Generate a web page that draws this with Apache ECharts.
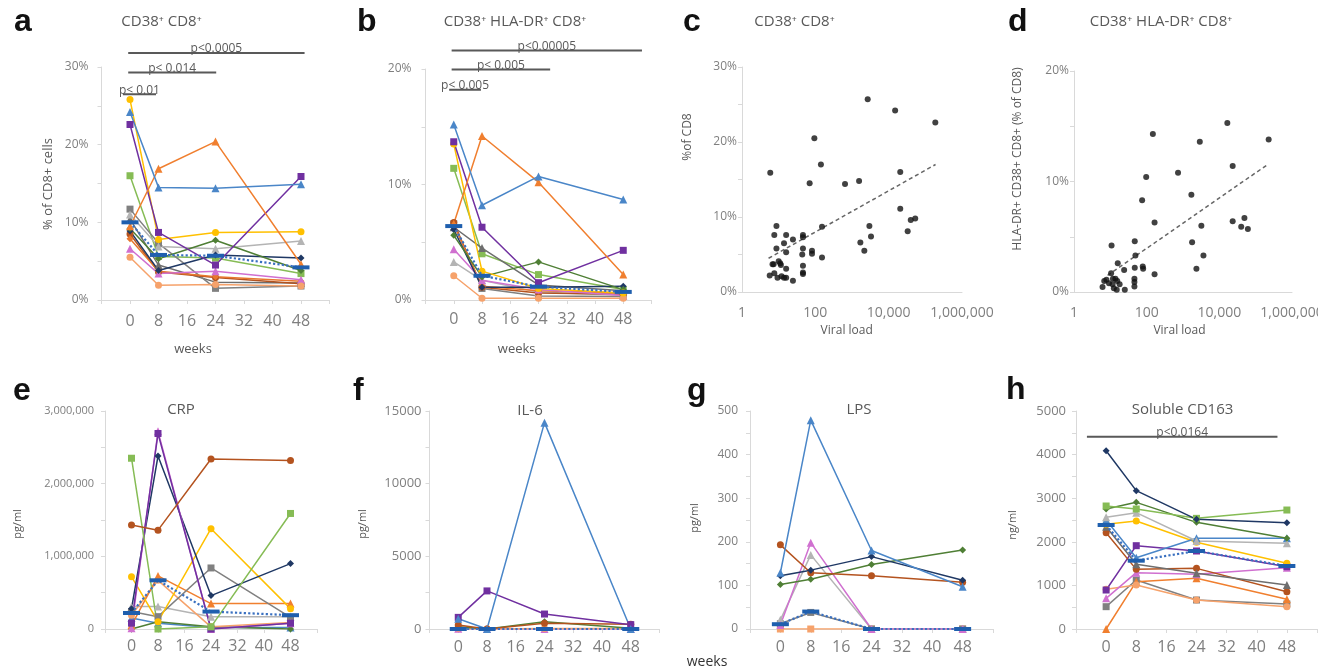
<!DOCTYPE html>
<html><head><meta charset="utf-8">
<script src="https://cdn.jsdelivr.net/npm/echarts@6/dist/echarts.min.js"></script>
<style>html,body{margin:0;padding:0;background:#fff}#c{width:1318px;height:669px}</style>
</head><body><div id="c"></div>
<script>
// ---------------- DATA ----------------
const weeks = [0, 8, 24, 48];
const weekTicks = [0, 8, 16, 24, 32, 40, 48];

// Panel a: CD38+ CD8+ (% of CD8+ cells)
const panelASubjects = ['lightgreen','darkgrayTri','darkgraySq','lightgrayTri','brown','orangeDia','pink','salmon','navy','darkgreen','gold','purple','orange','blue'];
const panelAValues = [
  [16.0, 5.6, 5.4, 3.4],
  [10.4, 4.5, 2.3, 2.2],
  [11.7, 7.3, 1.5, 1.8],
  [11.0, 6.9, 6.6, 7.6],
  [8.5, 3.6, 2.9, 2.1],
  [7.9, 3.7, 3.0, 2.4],
  [6.6, 3.4, 3.7, 2.6],
  [5.5, 1.9, 2.0, 1.8],
  [8.9, 3.8, 5.8, 5.4],
  [9.2, 5.3, 7.7, 3.8],
  [25.8, 7.8, 8.7, 8.8],
  [22.6, 8.7, 4.5, 15.9],
  [9.5, 16.9, 20.4, 4.6],
  [24.2, 14.5, 14.4, 14.9]
];
const panelAMedian = [10.0, 5.8, 5.7, 4.2];
const panelASig = [['p< 0.01', -2, 7.3, 26.5], ['p< 0.014', -0.5, 24.2, 29.3], ['p<0.0005', -0.5, 49, 31.8]];

// Panel b: CD38+ HLA-DR+ CD8+
const panelBSubjects = ['lightgreen','darkgrayTri','darkgraySq','lightgrayTri','brown','orangeDia','pink','salmon','navy','darkgreen','gold','purple','orange','blue'];
const panelBValues = [
  [11.4, 4.0, 2.2, 0.9],
  [6.3, 4.5, 1.3, 0.8],
  [6.6, 1.0, 0.35, 0.3],
  [3.3, 1.7, 0.7, 0.4],
  [6.7, 1.1, 0.6, 0.5],
  [6.5, 1.2, 0.8, 0.6],
  [4.4, 1.7, 0.9, 0.4],
  [2.1, 0.15, 0.15, 0.15],
  [6.1, 1.1, 1.1, 1.2],
  [5.6, 2.0, 3.3, 0.9],
  [13.5, 2.5, 1.0, 0.6],
  [13.7, 6.3, 1.5, 4.3],
  [6.6, 14.2, 10.2, 2.2],
  [15.2, 8.2, 10.7, 8.7]
];
const panelBMedian = [6.4, 2.1, 1.15, 0.7];
const panelBSig = [['p< 0.005', -1.3, 7.7, 18.2], ['p< 0.005', -0.6, 27.3, 19.95], ['p<0.00005', -0.6, 53.3, 21.6]];

// Panel c: viral load vs CD38+ CD8+
const viralCD38 = [[5.9,15.9],[94,20.5],[142,17.0],[70,14.5],[645,14.4],[1560,14.8],[2680,25.7],[15000,24.2],[187000,22.6],
  [20700,16.0],[20700,11.1],[40000,9.6],[53000,9.8],[33000,8.1],[2980,8.8],[3300,7.4],[1690,6.6],[2170,5.5],[152,8.7],[152,4.6],
  [81,5.5],[81,5.1],[46,7.6],[46,7.3],[46,5.8],[44,5.0],[46,3.5],[46,2.6],[46,2.4],[24.5,7.0],[24.5,1.5],[16,7.6],[16,5.3],
  [14,6.5],[16,3.1],[16,1.9],[14,1.9],[8.7,8.8],[7.6,7.6],[8.7,5.8],[10,4.1],[11.5,3.6],[11,3.85],[7.3,3.7],[6.8,3.7],
  [7.6,2.5],[9.3,1.9],[5.7,2.2],[12,2.1]];
const trendCD38 = [[5.3, 4.5], [190000, 17.0]];

// Panel d: viral load vs CD38+ HLA-DR+ CD8+
const viralHLA = [[16600,15.3],[228000,13.8],[2900,13.6],[148,14.3],[97,10.4],[730,10.8],[75,8.3],[1700,8.8],[23300,11.4],
  [23300,6.4],[49000,6.7],[40000,5.9],[61000,5.7],[3200,6.0],[165,6.3],[1780,4.5],[3650,3.3],[2340,2.1],[165,1.6],[10.8,4.2],
  [47,4.6],[49,3.3],[47,2.2],[78,2.3],[80,2.1],[24,2.0],[16,2.6],[46,1.2],[46,0.9],[46,0.5],[10.5,1.7],[6.1,0.45],[6.8,1.0],
  [7.8,1.1],[9.2,0.8],[11.8,1.2],[13.8,1.2],[15.5,1.0],[12.5,0.35],[15,0.2],[25,0.2],[11.5,0.7],[18,0.7]];
const trendHLA = [[8.4, 1.5], [228000, 11.6]];

// Panel e: CRP (pg/ml)
const panelESubjects = ['blue','darkgreen','lightgrayTri','salmon','orange','darkgraySq','gold','navy','pink','purple','lightgreen','brown'];
const panelEValues = [
  [150000, 80000, 20000, 20000],
  [0, 100000, 30000, 0],
  [310000, 310000, 170000, 170000],
  [190000, 670000, 30000, 90000],
  [50000, 730000, 350000, 350000],
  [240000, 170000, 840000, 160000],
  [720000, 100000, 1380000, 280000],
  [280000, 2380000, 460000, 900000],
  [10000, 2720000, 0, 80000],
  [80000, 2690000, 0, 80000],
  [2350000, 0, 30000, 1590000],
  [1430000, 1360000, 2340000, 2320000]
];
const panelEMedian = [220000, 670000, 240000, 190000];

// Panel f: IL-6 (pg/ml)
const panelFSubjects = ['pink','salmon','darkgreen','brown','purple','blue'];
const panelFValues = [
  [20, 0, 0, 0],
  [50, 0, 30, 30],
  [150, 0, 500, 50],
  [280, 0, 400, 320],
  [800, 2620, 1030, 300],
  [700, 0, 14200, 0]
];
const panelFMedian = [0, 0, 0, 0];

// Panel g: LPS (pg/ml)
const panelGSubjects = ['salmonSq','darkgraySq','lightgrayTri','pink','darkgreen','brown','navy','blue'];
const panelGValues = [
  [0, 0, 0, 0],
  [12, 38, 0, 0],
  [21, 170, 0, 0],
  [9, 198, 0, 0],
  [102, 114, 148, 181],
  [193, 129, 122, 107],
  [122, 135, 166, 112],
  [129, 479, 180, 97]
];
const panelGMedian = [11, 40, 0, 0];

// Panel h: Soluble CD163 (ng/ml)
const panelHSubjects = ['darkgraySq','orange','salmon','pink','purple','brown','darkgrayTri','gold','blue','lightgrayTri','darkgreen','lightgreen','navy'];
const panelHValues = [
  [512, 1124, 665, 573],
  [0, 1086, 1162, 680],
  [910, 1009, 665, 512],
  [703, 1292, 1254, 1407],
  [894, 1911, 1789, 1430],
  [2209, 1368, 1391, 856],
  [2347, 1483, 1277, 1009],
  [2400, 2477, 1988, 1506],
  [2500, 1636, 2080, 2080],
  [2561, 2668, 2018, 1965],
  [2752, 2905, 2446, 2080],
  [2821, 2752, 2538, 2729],
  [4090, 3173, 2515, 2439]
];
const panelHMedian = [2385, 1567, 1789, 1445];
const panelHSig = [['p<0.0164', -5.1, 45.5, 4411]];

// ---------------- STYLE ----------------
const FONT = '"Open Sans", "DejaVu Sans", sans-serif';
const STYLE = {
  gold: ['#FFC000','circle'], blue: ['#4A86C8','triangle'], purple: ['#7030A0','rect'],
  orange: ['#F07F2F','triangle'], lightgreen: ['#86BC55','rect'], darkgraySq: ['#808080','rect'],
  lightgrayTri: ['#B4B4B4','triangle'], darkgreen: ['#4F7F35','diamond'], navy: ['#1F3864','diamond'],
  orangeDia: ['#E8772E','diamond'], pink: ['#D070D0','triangle'], salmon: ['#F6A26B','circle'],
  salmonSq: ['#F6A26B','rect'], brown: ['#B4531F','circle'], darkgrayTri: ['#6E6E6E','triangle']
};
const grids = [
  {left:101.5, top:67, width:228, height:233},
  {left:425.5, top:69, width:226, height:231},
  {left:742, top:67, width:220, height:225},
  {left:1074, top:71, width:218, height:221},
  {left:105, top:411, width:212, height:218},
  {left:429.5, top:411, width:230, height:218},
  {left:750, top:411, width:243, height:218},
  {left:1076, top:411, width:241, height:218}
].map(g => Object.assign({outerBoundsMode:'none', containLabel:false}, g));

const labelColor = '#7F7F7F';
function weekAxis(i, margin) {
  return {type:'value', gridIndex:i, position:'bottom', min:-8, max:56, interval:8,
    axisLine:{show:true, onZero:false, lineStyle:{color:'#D9D9D9', width:1}},
    axisTick:{show:true, length:4, lineStyle:{color:'#D9D9D9'}},
    splitLine:{show:false},
    axisLabel:{margin, fontSize:16, color:labelColor, fontFamily:FONT, showMinLabel:true, showMaxLabel:true,
      formatter: v => weekTicks.indexOf(v) >= 0 ? String(v) : ''}};
}
function logAxis(i) {
  return {type:'log', logBase:10, gridIndex:i, position:'bottom', min:1, max:1000000, splitNumber:6,
    axisLine:{show:true, onZero:false, lineStyle:{color:'#D9D9D9', width:1}}, axisTick:{show:false},
    splitLine:{show:false}, minorSplitLine:{show:false},
    axisLabel:{margin:14, fontSize:14, color:labelColor, fontFamily:FONT, showMinLabel:true, showMaxLabel:true,
      formatter: v => { const e = Math.round(Math.log10(v)); return e % 2 === 0 ? Math.pow(10, e).toLocaleString('en-US') : ''; }}};
}
function valAxis(i, max, interval, fmt, fontSize, margin) {
  return {type:'value', gridIndex:i, position:'left', min:0, max, interval,
    axisLine:{show:true, onZero:false, lineStyle:{color:'#D9D9D9', width:1}},
    axisTick:{show:true, length:4, lineStyle:{color:'#D9D9D9'}},
    minorTick:{show:true, splitNumber:2, length:4, lineStyle:{color:'#D9D9D9'}},
    splitLine:{show:false}, minorSplitLine:{show:false},
    axisLabel:{margin, fontSize, color:labelColor, fontFamily:FONT, formatter: fmt}};
}
const pct = v => v + '%';
const comma = v => v.toLocaleString('en-US');
const plain = v => String(v);

function lineSeries(idx, subjects, values, median) {
  const out = subjects.map((s, i) => ({
    type:'line', xAxisIndex:idx, yAxisIndex:idx, symbol:STYLE[s][1],
    symbolSize: STYLE[s][1] === 'triangle' ? 8 : 7,
    data: weeks.map((w, j) => [w, values[i][j]]),
    lineStyle:{color:STYLE[s][0], width:1.5}, itemStyle:{color:STYLE[s][0]}, z:2
  }));
  out.push({type:'line', xAxisIndex:idx, yAxisIndex:idx, symbol:'rect', symbolSize:[17,4],
    data: weeks.map((w, j) => [w, median[j]]),
    lineStyle:{color:'#3A70C0', width:2.2, type:'dotted'}, itemStyle:{color:'#1F5FAE'}, z:4});
  return out;
}
function sigSeries(idx, bars) {
  return bars.map(([text, x1, x2, y]) => ({
    type:'line', xAxisIndex:idx, yAxisIndex:idx, clip:false, symbol:'circle', symbolSize:0, showSymbol:true,
    lineStyle:{color:'#595959', width:2}, itemStyle:{color:'#595959'}, z:5,
    data:[[x1, y], {value:[(x1 + x2) / 2, y], label:{show:true, formatter:text, position:'top', distance:-2,
      color:'#595959', fontSize:12, fontFamily:FONT}}, [x2, y]]
  }));
}
function scatterSeries(idx, pts, trend) {
  return [
    {type:'scatter', xAxisIndex:idx, yAxisIndex:idx, data:pts, symbolSize:6, itemStyle:{color:'#111'}, z:3},
    {type:'line', xAxisIndex:idx, yAxisIndex:idx, data:trend, symbol:'none',
      lineStyle:{color:'#666', width:1.5, type:[4,3]}, z:2}
  ];
}

function txt(x, y, text, font, fill, rot) {
  return {type:'text', x, y, rotation: rot || 0, silent:true,
    style:{text, font, fill, align:'center', verticalAlign:'middle'}};
}
function letter(x, baseline, t) {
  return {type:'text', x, y: baseline - 11, silent:true,
    style:{text:t, font:'bold 32px "Liberation Sans", Arial, sans-serif', fill:'#111', align:'left', verticalAlign:'middle'}};
}
const F15 = '15px ' + FONT, F13 = '13px ' + FONT, F12 = '12px ' + FONT, F11 = '11px ' + FONT;
const graphics = [
  letter(14, 33, 'a'), letter(357, 33, 'b'), letter(683, 33, 'c'), letter(1008, 33, 'd'),
  letter(13, 402, 'e'), letter(353, 402, 'f'), letter(687, 401.7, 'g'), letter(1006, 400.7, 'h'),
  txt(161.5, 21.5, 'CD38⁺ CD8⁺', F15, '#595959'),
  txt(515, 21.5, 'CD38⁺ HLA-DR⁺ CD8⁺', F15, '#595959'),
  txt(794.5, 22, 'CD38⁺ CD8⁺', F15, '#595959'),
  txt(1161, 22, 'CD38⁺ HLA-DR⁺ CD8⁺', F15, '#595959'),
  txt(181, 410, 'CRP', F15, '#595959'),
  txt(530, 411, 'IL-6', F15, '#595959'),
  txt(859, 410, 'LPS', F15, '#595959'),
  txt(1182.5, 410, 'Soluble CD163', F15, '#595959'),
  txt(48, 184, '% of CD8+ cells', F13, '#595959', Math.PI / 2),
  txt(688, 137, '%of CD8', F12, '#595959', Math.PI / 2),
  txt(1018, 159, 'HLA-DR+ CD38+ CD8+ (% of CD8)', F12, '#595959', Math.PI / 2),
  txt(18, 524, 'pg/ml', F11, '#595959', Math.PI / 2),
  txt(363, 524, 'pg/ml', F11, '#595959', Math.PI / 2),
  txt(695, 518, 'pg/ml', F11, '#595959', Math.PI / 2),
  txt(1013, 525, 'ng/ml', F11, '#595959', Math.PI / 2),
  txt(193, 349, 'weeks', F13, '#595959'),
  txt(516.7, 349, 'weeks', F13, '#595959'),
  txt(707, 662, 'weeks', '14px ' + FONT, '#333'),
  txt(846.7, 331, 'Viral load', F12, '#595959'),
  txt(1179.5, 331, 'Viral load', F12, '#595959')
];

const option = {
  animation:false,
  backgroundColor:'#fff',
  grid: grids,
  xAxis: [weekAxis(0, 13), weekAxis(1, 11), logAxis(2), logAxis(3), weekAxis(4, 9), weekAxis(5, 10), weekAxis(6, 10), weekAxis(7, 10)],
  yAxis: [
    valAxis(0, 30, 10, pct, 12, 13),
    valAxis(1, 20, 10, pct, 12, 14),
    valAxis(2, 30, 10, pct, 12, 5),
    valAxis(3, 20, 10, pct, 12, 5),
    valAxis(4, 3000000, 1000000, comma, 11, 11),
    valAxis(5, 15000, 5000, plain, 13, 8),
    valAxis(6, 500, 100, plain, 12, 12),
    valAxis(7, 5000, 1000, plain, 13, 10)
  ],
  series: [].concat(
    lineSeries(0, panelASubjects, panelAValues, panelAMedian), sigSeries(0, panelASig),
    lineSeries(1, panelBSubjects, panelBValues, panelBMedian), sigSeries(1, panelBSig),
    scatterSeries(2, viralCD38, trendCD38),
    scatterSeries(3, viralHLA, trendHLA),
    lineSeries(4, panelESubjects, panelEValues, panelEMedian),
    lineSeries(5, panelFSubjects, panelFValues, panelFMedian),
    lineSeries(6, panelGSubjects, panelGValues, panelGMedian),
    lineSeries(7, panelHSubjects, panelHValues, panelHMedian), sigSeries(7, panelHSig)
  ),
  graphic: graphics
};
const chart = echarts.init(document.getElementById('c'), null, {renderer:'canvas', width:1318, height:669});
chart.setOption(option);
</script></body></html>
